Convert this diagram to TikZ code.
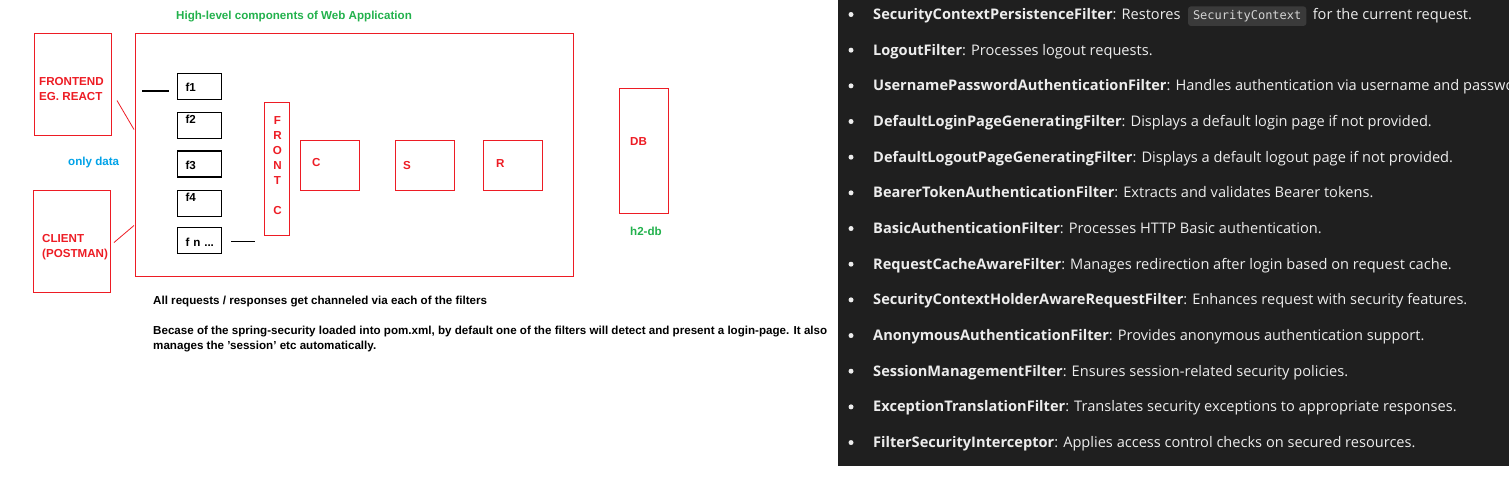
\documentclass[tikz,border=0pt]{standalone}
\usepackage{fontspec}
\setmainfont{Liberation Sans}
\newfontfamily\uifont{Open Sans}
\newfontfamily\codefont{DejaVu Sans Mono}
\usetikzlibrary{positioning}
\definecolor{paintred}{HTML}{ED1C24}
\definecolor{paintgreen}{HTML}{22B14C}
\definecolor{paintblue}{HTML}{00A2E8}
\definecolor{panelbg}{HTML}{1F1F1F}
\definecolor{codebg}{HTML}{3A3A3A}
\definecolor{codefg}{HTML}{D4D4D4}
\definecolor{paneltext}{HTML}{EDEDED}
\newcommand{\flabel}[2]{\raisebox{#1}[0pt][0pt]{#2}}
\tikzset{
    redbox/.style={rectangle, draw=paintred, line width=1pt, inner sep=0pt, anchor=north west},
    filterbox/.style={rectangle, draw=black, line width=1.2pt, minimum width=44pt, minimum height=26pt, inner xsep=8pt, inner ysep=0pt, text width=28pt, align=left, font=\fontsize{11.6}{15}\selectfont\bfseries},
    painttext/.style={inner sep=0pt, anchor=north west, align=left, font=\fontsize{11.6}{15}\selectfont\bfseries},
    redline/.style={draw=paintred, line width=0.8pt},
    blackline/.style={draw=black, line width=1.2pt}
}

\begin{document}
\begin{tikzpicture}[
		x=1pt, y=-1pt,
		itemtext/.style={inner sep=0pt, anchor=base west, text=paneltext, font=\uifont\fontsize{14.6}{18}\selectfont},
		codebox/.style={rectangle, rounded corners=3pt, fill=codebg, text=codefg, inner xsep=5pt, inner ysep=4pt, anchor=base west, font=\codefont\fontsize{12}{14}\selectfont},
		bulletdot/.style={circle, fill=paneltext, inner sep=0pt, minimum size=5pt}
		]
		\useasboundingbox (0,0) rectangle (1509,480);
		
		% --- CLIENTS ---
		\node[redbox, minimum width=77pt, minimum height=102pt] (fe) at (34,33) {};
		\node[painttext, text=paintred] (feText) at ([shift={(5,43.7)}]fe.north west) {FRONTEND\\EG. REACT};
		\node[redbox, minimum width=77pt, minimum height=102pt] (cl) at (33,190) {};
		\node[painttext, text=paintred] (clText) at ([shift={(9,43.7)}]cl.north west) {CLIENT\\(POSTMAN)};
		\node[painttext, text=paintblue] (onlyData) at (68,156.7) {only data};
		
		% --- WEB APPLICATION ---
		\node[redbox, minimum width=438pt, minimum height=243pt] (mainbox) at (135,33) {};
		\node[painttext, text=paintgreen] (title) at ([shift={(41,-22.3)}]mainbox.north west) {High-level components of Web Application};
		
		% filters
		\node[filterbox, anchor=north west] (f1) at (177,73) {\flabel{-5pt}{f1}};
		\node[filterbox, below=12pt of f1] (f2) {\flabel{2pt}{f2}};
		\node[filterbox, below=11pt of f2] (f3) {\flabel{-5pt}{f3}};
		\node[filterbox, below=12pt of f3] (f4) {\flabel{2pt}{f4}};
		\node[filterbox, below=10pt of f4] (fn) {\flabel{-6pt}{f n ...}};
		
		% front controller, C, S, R
		\node[redbox, minimum width=25pt, minimum height=133pt] (frontc) at (264,102) {};
		\node[painttext, text=paintred, anchor=north, align=center] (frontcText) at ([shift={(0.5,14.2)}]frontc.north) {F\\R\\O\\N\\T\\[15pt]C};
		\node[redbox, minimum width=59pt, minimum height=50pt] (ctrl) at (300,140) {};
		\node[redbox, minimum width=59pt, minimum height=50pt, anchor=west, right=35pt of ctrl] (svc) {};
		\node[redbox, minimum width=59pt, minimum height=50pt, anchor=west, right=28pt of svc] (repo) {};
		\node[painttext, text=paintred] (ctrlText) at ([shift={(12,17.7)}]ctrl.north west) {C};
		\node[painttext, text=paintred] (svcText) at ([shift={(8,20.7)}]svc.north west) {S};
		\node[painttext, text=paintred] (repoText) at ([shift={(13,19.7)}]repo.north west) {R};
		
		% --- DATABASE ---
		\node[redbox, minimum width=49pt, minimum height=125pt] (db) at (619,88) {};
		\node[painttext, text=paintred] (dbText) at ([shift={(11,49.7)}]db.north west) {DB};
		\node[painttext, text=paintgreen] (h2) at ([shift={(11,12.7)}]db.south west) {h2-db};
		
		% --- NOTES ---
		\node[painttext] (note1) at ([shift={(18,18.7)}]mainbox.south west) {All requests / responses get channeled via each of the filters};
		\node[painttext] (note2) at ([shift={(18,48.7)}]mainbox.south west) {Becase of the spring-security loaded into pom.xml, by default one of the filters will detect and present a login-page. It also\\manages the 'session' etc automatically.};
		
		% --- CONNECTORS ---
		\draw[redline] ([shift={(5,16)}]fe.east) -- ([shift={(-1,-25.5)}]mainbox.west);
		\draw[redline] ([shift={(3,1)}]cl.east) -- ([shift={(-1,70.5)}]mainbox.west);
		\coordinate (inStart) at (142,91);
		\draw[blackline, shorten >=8pt] (inStart) -- (inStart -| f1.west);
		\draw[blackline, shorten <=9pt, shorten >=9pt] ([yshift=-1pt]fn.east) -- ([yshift=-1pt]fn.east -| frontc.west);
		
		% --- FILTER CHAIN PANEL ---
		\fill[panelbg] (838,0) rectangle (1509,466);
		\node[bulletdot] (dot0) at (851,14.5) {};
		\node[itemtext] (item0) at (873,19.5) {\textbf{SecurityContextPersistenceFilter}: Restores};
		\node[codebox] (ctx) at ([xshift=7pt]item0.base east) {SecurityContext};
		\node[itemtext] (item0b) at ([xshift=6pt]ctx.base east) {for the current request.};
		\foreach \fname/\fdesc [count=\i from 1] in {
			LogoutFilter/Processes logout requests.,
			UsernamePasswordAuthenticationFilter/Handles authentication via username and passwo,
			DefaultLoginPageGeneratingFilter/Displays a default login page if not provided.,
			DefaultLogoutPageGeneratingFilter/Displays a default logout page if not provided.,
			BearerTokenAuthenticationFilter/Extracts and validates Bearer tokens.,
			BasicAuthenticationFilter/Processes HTTP Basic authentication.,
			RequestCacheAwareFilter/Manages redirection after login based on request cache.,
			SecurityContextHolderAwareRequestFilter/Enhances request with security features.,
			AnonymousAuthenticationFilter/Provides anonymous authentication support.,
			SessionManagementFilter/Ensures session-related security policies.,
			ExceptionTranslationFilter/Translates security exceptions to appropriate responses.,
			FilterSecurityInterceptor/Applies access control checks on secured resources.}
		{
			\node[bulletdot] (dot\i) at (851, 14.5+35.67*\i) {};
			\node[itemtext] (item\i) at (873, 19.5+35.67*\i) {\textbf{\fname}: \fdesc};
		}
		
	\end{tikzpicture}
\end{document}
